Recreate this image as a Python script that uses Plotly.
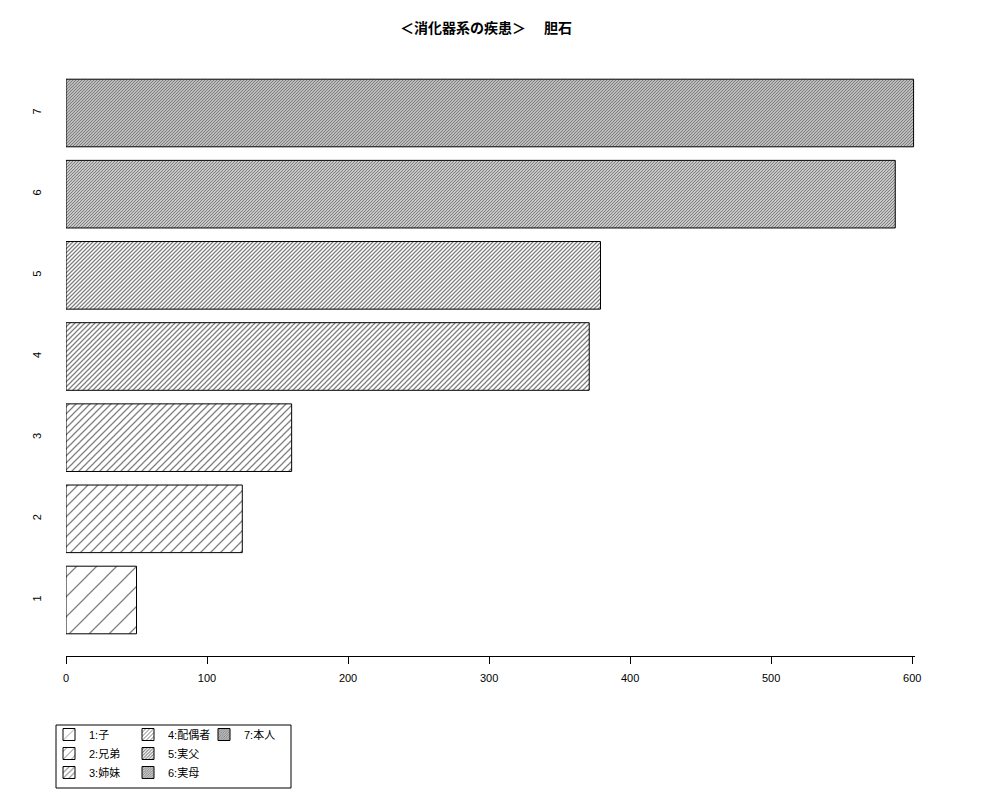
import plotly.graph_objects as go

# 家族別の件数(胆石)
categories = ["1", "2", "3", "4", "5", "6", "7"]
values = [50, 125, 160, 371, 379, 588, 601]
legend_labels = ["1:子", "2:兄弟", "3:姉妹", "4:配偶者", "5:実父", "6:実母", "7:本人"]
x_ticks = [0, 100, 200, 300, 400, 500, 600]

title_text = "＜消化器系の疾患＞　 胆石"

FONT = "Liberation Sans, Arial, Noto Sans CJK JP, sans-serif"
OFF = 8  # ページ本体の余白
W, H = 1000 - OFF, 800 - OFF
L, R, T, B = 66 - OFF, 85, 57 - OFF, 144
PW = W - L - R
PH = H - T - B


def px_x(px):
	# 画面ピクセル -> paper座標 (x)
	return (px - OFF - L) / PW


def px_y(py):
	# 画面ピクセル -> paper座標 (y)
	return (H - B - (py - OFF)) / PH


def cx(px):
	return (px - OFF) / W


def cy(py):
	return 1 - (py - OFF) / H


legend_ids = ["legend", "legend", "legend", "legend2", "legend2", "legend2", "legend3"]

fig = go.Figure()
for i, (cat, val) in enumerate(zip(categories, values)):
	# 斜線の間隔: 密度 5*(i+1) 本/インチ相当, タイル幅は整数pxに丸める
	tile = max(round(20.4 / (i + 1)), 3)
	size = tile / 2 ** 0.5
	lw = 1.25 if i < 6 else 1.5
	fig.add_trace(go.Bar(
		y=[cat], x=[val], orientation="h", width=0.833,
		name=legend_labels[i], legend=legend_ids[i],
		marker=dict(
			color="white",
			line=dict(color="black", width=1),
			pattern=dict(shape="/", size=size, solidity=min(lw / size, 0.75),
						 fgcolor="black", bgcolor="white"),
		),
	))

fig.update_layout(
	width=W, height=H,
	margin=dict(l=L, r=R, t=T, b=B, autoexpand=False),
	paper_bgcolor="white", plot_bgcolor="white",
	barmode="overlay",
	font=dict(family=FONT, size=11, color="black"),
	title=dict(text=title_text, font=dict(size=14, weight="bold"),
			   x=cx(486), xref="container", xanchor="center",
			   y=cy(28), yref="container", yanchor="middle"),
	xaxis=dict(range=[0, 602], tickvals=x_ticks, ticks="outside", ticklen=7,
			   tickcolor="black", showline=True, linecolor="black", linewidth=1,
			   showgrid=False, zeroline=False, ticklabelstandoff=5),
	yaxis=dict(type="category", categoryorder="array", categoryarray=categories,
			   range=[-0.69, 6.69], ticks="", showline=False, showgrid=False,
			   zeroline=False, tickangle=-90, ticklabelstandoff=22),
	showlegend=True,
)

leg_common = dict(orientation="v", font=dict(size=11), bgcolor="rgba(0,0,0,0)",
				  borderwidth=0, xref="container", yref="container",
				  xanchor="left", yanchor="top", tracegroupgap=0)
fig.update_layout(
	legend=dict(x=cx(49), y=cy(720), **leg_common),
	legend2=dict(x=cx(128), y=cy(720), **leg_common),
	legend3=dict(x=cx(204), y=cy(720), **leg_common),
)

# 凡例の枠
fig.add_shape(type="rect", xref="paper", yref="paper",
			  x0=px_x(56), x1=px_x(291), y0=px_y(725), y1=px_y(788),
			  line=dict(color="black", width=1), fillcolor="rgba(0,0,0,0)")

fig.write_html("out.html")
